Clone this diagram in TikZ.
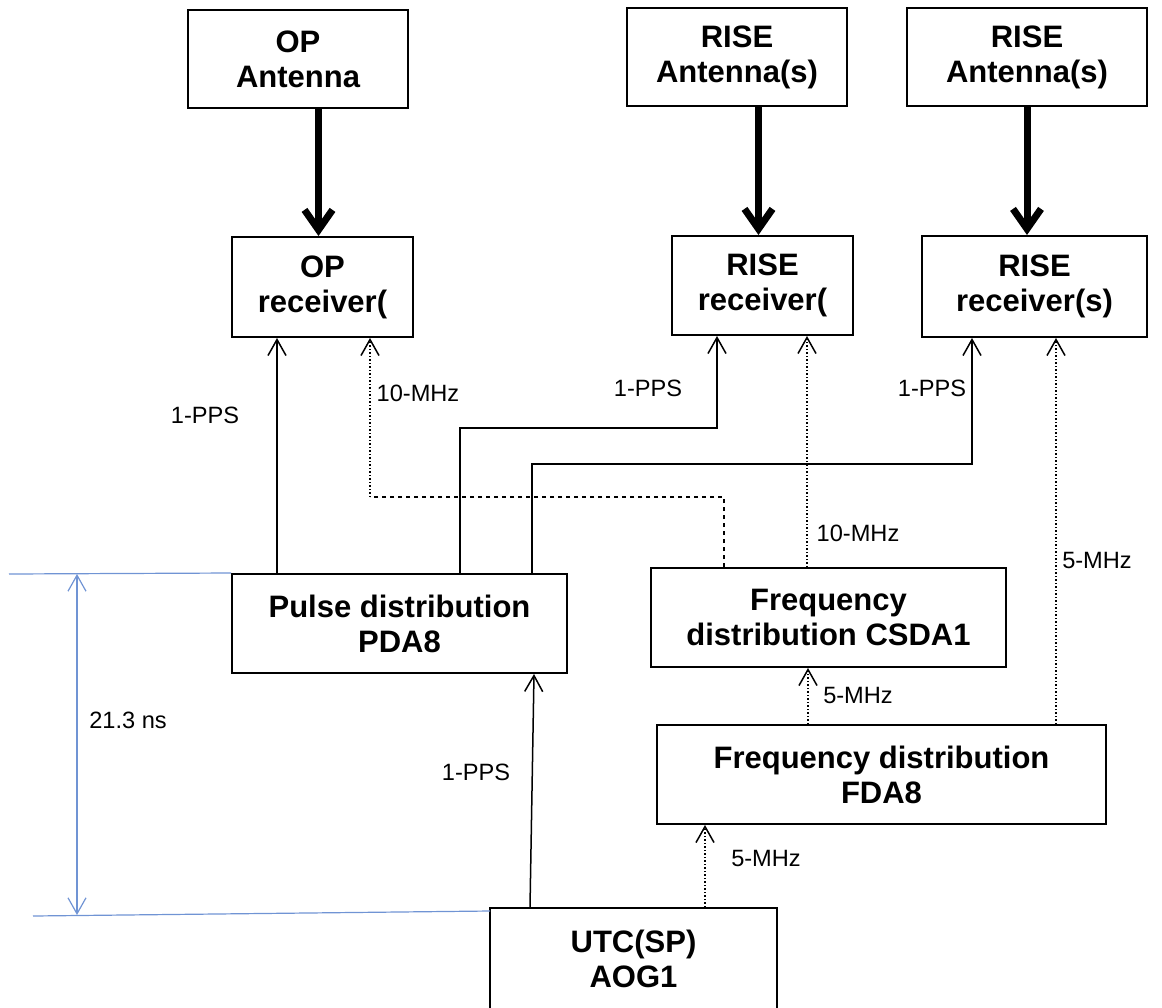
\documentclass[tikz,border=0pt]{standalone}
\usepackage{fontspec}
\setmainfont{Liberation Sans}
\usetikzlibrary{arrows.meta, positioning, calc}
\definecolor{DimBlue}{HTML}{7094D4}

\tikzset{
    unit/.style={draw, line width=1pt, align=center, inner sep=0pt,
        font=\fontsize{15.5}{17.5}\selectfont\bfseries},
    sig/.style={line width=0.75pt, -{Straight Barb[length=8pt,width=9pt]}},
    sigdot/.style={sig, densely dotted},
    feed/.style={line width=3.5pt, -{Straight Barb[length=10pt,width=14pt]}},
    lbl/.style={font=\fontsize{11.8}{14}\selectfont}
}

\begin{document}
\begin{tikzpicture}[x=0.5pt, y=-0.5pt]
    \clip (0,0) rectangle (1162,1007);

    % Antennas
    \node[unit, minimum width=110pt, minimum height=49pt] (opant) at (298,59) {OP\\Antenna};
    \node[unit, minimum width=110pt, minimum height=49pt] (riseantA) at (737,57) {RISE\\Antenna(s)};
    \node[unit, minimum width=120pt, minimum height=49pt] (riseantB) at (1027,57) {RISE\\Antenna(s)};

    % Receivers
    \node[unit, minimum width=90.5pt, minimum height=50pt] (oprx) at (322.5,287) {OP\\receiver(};
    \node[unit, minimum width=90.5pt, minimum height=49.5pt] (riserxA) at (762.5,285.5) {RISE\\receiver(};
    \node[unit, minimum width=112.5pt, minimum height=50.5pt] (riserxB) at (1034.5,286.5) {RISE\\receiver(s)};

    % Distribution units
    \node[unit, minimum width=167.5pt, minimum height=49.5pt] (pda) at (399.5,623.5) {Pulse distribution\\PDA8};
    \node[unit, minimum width=177.5pt, minimum height=49.5pt] (csda) at (828.5,617.5) {Frequency\\distribution CSDA1};
    \node[unit, minimum width=224.5pt, minimum height=49.5pt] (fda) at (881.5,774.5) {Frequency distribution\\FDA8};
    \node[unit, minimum width=143.5pt, minimum height=51pt] (utc) at (633.5,959) {UTC(SP)\\AOG1};

    % Antenna feeds
    \draw[feed] ([xshift=-2pt]oprx.north |- opant.south) -- ([xshift=-2pt]oprx.north);
    \draw[feed] ([xshift=-2pt]riserxA.north |- riseantA.south) -- ([xshift=-2pt]riserxA.north);
    \draw[feed] (riseantB.south) -- (riseantB.south |- riserxB.north);

    % Tap points and bends
    \coordinate (ppsA) at ($(pda.north west)+(46,0)$);
    \coordinate (ppsB) at ($(pda.north west)+(229,0)$);
    \coordinate (ppsC) at ($(pda.north west)+(301,0)$);
    \coordinate (ppsD) at ($(utc.north west)+(41,0)$);
    \coordinate (tenA) at ($(csda.north west)+(74,0)$);
    \coordinate (tenB) at ($(csda.north west)+(157,0)$);
    \coordinate (fiveA) at ($(fda.north west)+(400,0)$);
    \coordinate (fiveB) at ($(fda.north west)+(152,0)$);
    \coordinate (fiveC) at ($(utc.north west)+(216,0)$);
    \coordinate (bendB) at (717,428);
    \coordinate (bendC) at (972,464);
    \coordinate (bendD) at (370,497);

    % 1-PPS
    \draw[sig] (ppsA) -- (oprx.south -| ppsA);
    \draw[sig] (ppsB) |- (bendB) -- (riserxA.south -| bendB);
    \draw[sig] (ppsC) |- (bendC) -- (riserxB.south -| bendC);
    \draw[sig] (ppsD) -- ($(pda.south west)+(303,0)$);
    \node[lbl] (ppsa) at (205,415) {1-PPS};
    \node[lbl] (ppsb) at (648,388) {1-PPS};
    \node[lbl] (ppsc) at (932,388) {1-PPS};
    \node[lbl] (ppsd) at (476,772) {1-PPS};

    % 10-MHz and 5-MHz
    \draw[line width=0.75pt, dash pattern=on 2pt off 2pt] (tenA) |- (bendD);
    \draw[sigdot] (bendD) -- (oprx.south -| bendD);
    \draw[sigdot] (tenB) -- (riserxA.south -| tenB);
    \draw[sigdot] (fiveA) -- (riserxB.south -| fiveA);
    \draw[sigdot] (fiveB) -- (csda.south -| fiveB);
    \draw[sigdot] (fiveC) -- (fda.south -| fiveC);
    \node[lbl] (tena) at (418,393) {10-MHz};
    \node[lbl] (tenb) at (858,533) {10-MHz};
    \node[lbl] (fivea) at (1097,560) {5-MHz};
    \node[lbl] (fiveb) at (858,695) {5-MHz};
    \node[lbl] (fivec) at (766,858) {5-MHz};

    % Delay dimension
    \coordinate (dimTop) at (77,574);
    \coordinate (dimBot) at (77,915);
    \draw[DimBlue, line width=0.6pt] (9,574) -- (pda.north west);
    \draw[DimBlue, line width=0.6pt] (33,916) -- (490,911);
    \draw[DimBlue, line width=0.6pt, {Straight Barb[length=8pt,width=9pt]}-{Straight Barb[length=8pt,width=9pt]}] (dimTop) -- (dimBot);
    \node[lbl] (delay) at (128,720) {21.3 ns};

\end{tikzpicture}
\end{document}
